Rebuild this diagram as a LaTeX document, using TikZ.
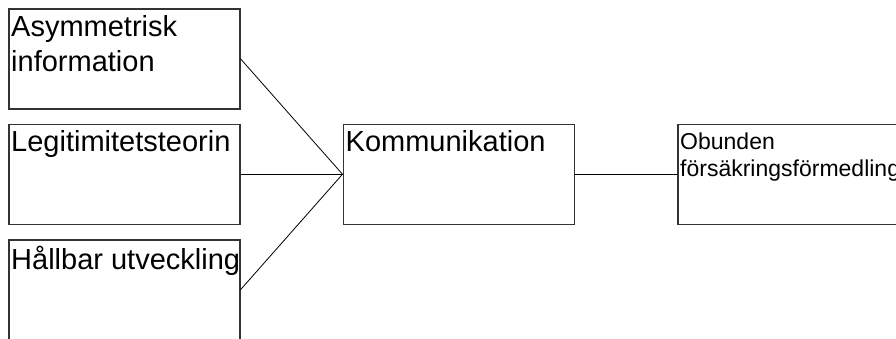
\documentclass[tikz,border=0pt]{standalone}
\usepackage{fontspec}
\setmainfont{Liberation Sans}
\usetikzlibrary{positioning}

\tikzset{
  box/.style={draw=black!80, line width=1.5pt, minimum width=231pt, minimum height=100pt, inner sep=0pt},
  boxtext/.style={anchor=north west, inner xsep=3pt, inner ysep=7pt, align=left, font=\fontsize{29pt}{35pt}\selectfont},
  link/.style={line width=0.8pt}
}

\begin{document}
\begin{tikzpicture}[x=1pt,y=-1pt]
\useasboundingbox (0,0) rectangle (896,338);
\clip (0,0) rectangle (896,338);
% boxes
\node[box, anchor=north west] (asym) at (8,8) {};
\node[box, below=14pt of asym] (legit) {};
\node[box, below=14pt of legit] (hall) {};
\node[box, right=102pt of legit] (komm) {};
\node[box, right=102pt of komm] (obund) {};
% texts
\node[boxtext] (asymtext) at (asym.north west) {Asymmetrisk\\information};
\node[boxtext] (legittext) at (legit.north west) {Legitimitetsteorin};
\node[boxtext] (halltext) at (hall.north west) {Hållbar utveckling};
\node[boxtext] (kommtext) at (komm.north west) {Kommunikation};
\node[boxtext, inner ysep=9pt, font=\fontsize{23pt}{27pt}\selectfont] (obundtext) at (obund.north west) {Obunden\\försäkringsförmedling};
% connectors
\draw[link] (asym.east) -- (komm.west);
\draw[link] (legit.east) -- (komm.west);
\draw[link] (hall.east) -- (komm.west);
\draw[link] (komm.east) -- (obund.west);
\end{tikzpicture}
\end{document}
